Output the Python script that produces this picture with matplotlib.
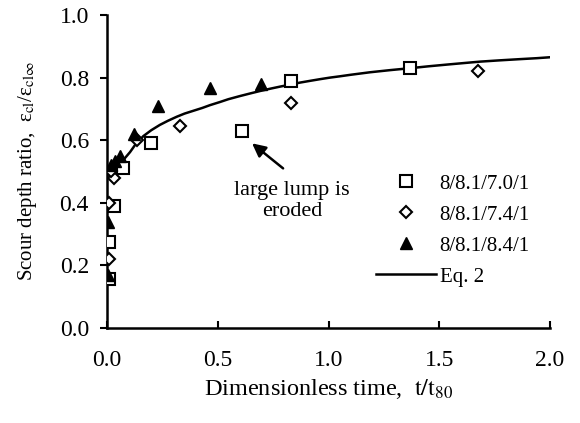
import matplotlib
matplotlib.use("Agg")
import matplotlib.pyplot as plt

# Data
sq_t = [0.01, 0.01, 0.03, 0.07, 0.20, 0.61, 0.83, 1.37]
sq_y = [0.157, 0.275, 0.39, 0.51, 0.59, 0.63, 0.79, 0.83]

di_t = [0.01, 0.01, 0.03, 0.02, 0.135, 0.33, 0.83, 1.675]
di_y = [0.22, 0.40, 0.48, 0.50, 0.60, 0.645, 0.72, 0.82]

tr_t = [0.005, 0.005, 0.02, 0.035, 0.06, 0.12, 0.23, 0.465, 0.695]
tr_y = [0.17, 0.34, 0.52, 0.535, 0.55, 0.62, 0.71, 0.767, 0.78]

eq_t = [0.06, 0.08, 0.104, 0.13, 0.164, 0.20, 0.239, 0.275, 0.315, 0.35, 0.39, 0.43,
        0.465, 0.51, 0.548, 0.60, 0.65, 0.69, 0.74, 0.78, 0.83, 0.871, 0.92, 0.962,
        1.007, 1.05, 1.10, 1.187, 1.28, 1.368, 1.45, 1.541, 1.62, 1.684, 1.77,
        1.865, 1.94, 2.0]
eq_y = [0.525, 0.542, 0.562, 0.588, 0.613, 0.632, 0.649, 0.662, 0.675, 0.685, 0.694, 0.703,
        0.712, 0.722, 0.731, 0.741, 0.750, 0.757, 0.765, 0.771, 0.778, 0.784, 0.790, 0.795,
        0.800, 0.804, 0.809, 0.817, 0.824, 0.830, 0.836, 0.842, 0.847, 0.851, 0.855,
        0.859, 0.862, 0.865]

xticks = [0.0, 0.5, 1.0, 1.5, 2.0]
yticks = [0.0, 0.2, 0.4, 0.6, 0.8, 1.0]

plt.rcParams['font.family'] = ['Liberation Serif', 'DejaVu Serif']
plt.rcParams['mathtext.fontset'] = 'stix'

fig = plt.figure(figsize=(5.8, 4.23), dpi=100)
ax = fig.add_axes([107/580, 1-328/423, (550-107)/580, (328-15)/423])

ax.plot(eq_t, eq_y, '-', color='black', lw=1.8, label='Eq. 2', zorder=2)
ax.plot(sq_t, sq_y, 's', ms=8.5, mfc='white', mec='black', mew=1.5,
        ls='none', label='8/8.1/7.0/1', zorder=3)
ax.plot(di_t, di_y, 'D', ms=6.5, mfc='white', mec='black', mew=1.5,
        ls='none', label='8/8.1/7.4/1', zorder=3)
ax.plot(tr_t, tr_y, '^', ms=9, mfc='black', mec='black',
        ls='none', label='8/8.1/8.4/1', zorder=3)

ax.set_xlim(0, 2.0)
ax.set_ylim(0, 1.0)
ax.set_xticks(xticks)
ax.set_yticks(yticks)
ax.set_xticklabels([f"{v:.1f}" for v in xticks])
ax.set_yticklabels([f"{v:.1f}" for v in yticks])
for s in ['top', 'right']:
    ax.spines[s].set_visible(False)
for s in ['left', 'bottom']:
    ax.spines[s].set_linewidth(1.8)
ax.tick_params(axis='x', direction='in', length=5, width=1.5, labelsize=17, pad=16)
ax.tick_params(axis='y', direction='out', length=5, width=1.5, labelsize=17, pad=8)

ax.set_xlabel(r'Dimensionless time,  $\mathrm{t}/\mathrm{t}_{80}$', fontsize=17.5, labelpad=4)
ax.set_ylabel('Scour depth ratio,  ε$_{\\mathrm{cl}}$/ε$_{\\mathrm{cl}\\infty}$',
              fontsize=15, labelpad=15)

ax.annotate('', xy=(0.655, 0.59), xytext=(0.795, 0.51),
            arrowprops=dict(arrowstyle='-|>', color='black', lw=1.8,
                            shrinkA=0, shrinkB=0, mutation_scale=20))
ax.text(0.835, 0.405, 'large lump is\neroded', ha='center', va='center',
        fontsize=16, linespacing=1.15)

handles, labels = ax.get_legend_handles_labels()
order = [1, 2, 3, 0]
leg = ax.legend([handles[i] for i in order], [labels[i] for i in order],
                loc='upper left', bbox_to_anchor=(376/580, 1-174/423),
                bbox_transform=fig.transFigure, frameon=False, fontsize=15,
                handlelength=2.9, handletextpad=0.15, labelspacing=0.55,
                borderpad=0, borderaxespad=0)

fig.savefig('out.png', dpi=100)
